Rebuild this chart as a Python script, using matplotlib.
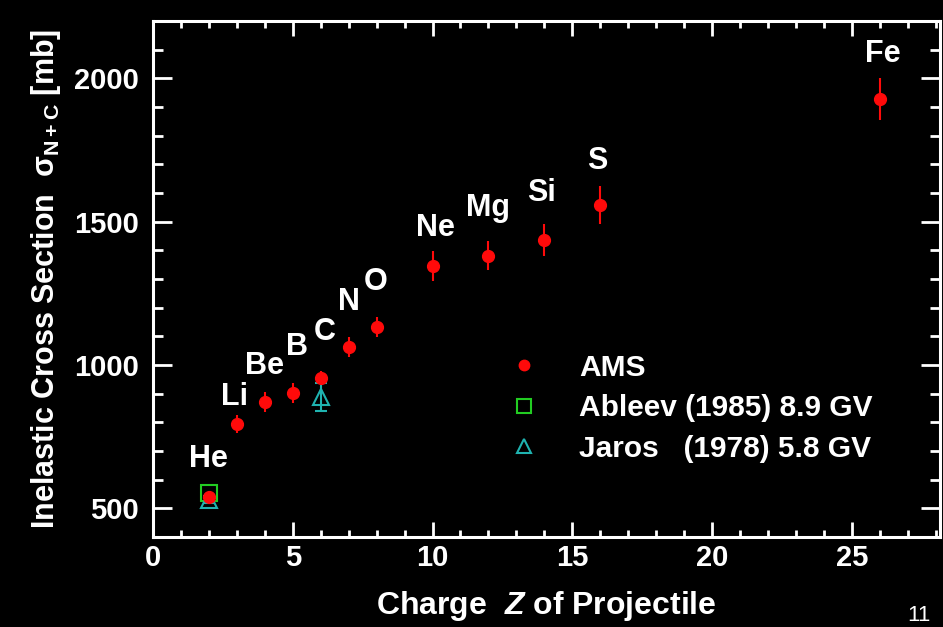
import numpy as np
import matplotlib
matplotlib.use('Agg')
import matplotlib.pyplot as plt
from matplotlib.ticker import MultipleLocator
from matplotlib.lines import Line2D

plt.rcParams['font.family'] = ['Liberation Sans', 'DejaVu Sans']
plt.rcParams['font.weight'] = 'bold'
plt.rcParams['mathtext.fontset'] = 'custom'
plt.rcParams['mathtext.rm'] = 'Liberation Sans:bold'
plt.rcParams['mathtext.bf'] = 'Liberation Sans:bold'
plt.rcParams['mathtext.it'] = 'Liberation Sans:italic:bold'
plt.rcParams['mathtext.sf'] = 'Liberation Sans'

# AMS measurements
elements = ['He', 'Li', 'Be', 'B', 'C', 'N', 'O', 'Ne', 'Mg', 'Si', 'S', 'Fe']
z_ams = [2, 3, 4, 5, 6, 7, 8, 10, 12, 14, 16, 26]
sigma_ams = [540, 794, 871, 902, 955, 1063, 1133, 1346, 1381, 1437, 1559, 1927]
err_ams = [15, 32, 35, 35, 25, 35, 35, 52, 50, 56, 66, 73]

# older measurements
z_ableev = [2]
sigma_ableev = [552]
z_jaros = [2, 6]
sigma_jaros = [530, 888]
err_jaros = [12, 49]

legend_labels = ['AMS', 'Ableev (1985) 8.9 GV', 'Jaros   (1978) 5.8 GV']

# where the element names sit (data coords)
label_x = [2.0, 2.9, 4.0, 5.15, 6.15, 7.0, 7.95, 10.1, 12.0, 13.9, 15.9, 26.1]
label_y = [671, 888, 997, 1063, 1115, 1220, 1290, 1479, 1549, 1601, 1713, 2084]

red = '#ff0a0a'
green = '#22cc22'
teal = '#1fb3b0'

fig = plt.figure(figsize=(9.43, 6.27), dpi=100, facecolor='black')
ax = fig.add_axes([0.1622, 0.1435, 0.8346, 0.823])
ax.set_facecolor('black')

ax.errorbar(z_ams, sigma_ams, yerr=err_ams, fmt='o', color=red, ms=8.5,
            elinewidth=1.5, capsize=0, zorder=4)
ax.plot(z_ableev, sigma_ableev, 's', mfc='none', mec=green, mew=1.5, ms=12, zorder=3)
ax.errorbar(z_jaros, sigma_jaros, yerr=err_jaros, fmt='^', mfc='none', mec=teal,
            ecolor=teal, mew=1.5, ms=11, elinewidth=1.5, capsize=4, capthick=1.5,
            zorder=3)

for name, lx, ly in zip(elements, label_x, label_y):
    ax.text(lx, ly, name, color='white', fontsize=22, fontweight='bold',
            ha='center', va='center')

ax.set_xlim(0, 28.15)
ax.set_ylim(400, 2200)
ax.xaxis.set_major_locator(MultipleLocator(5))
ax.xaxis.set_minor_locator(MultipleLocator(1))
ax.yaxis.set_major_locator(MultipleLocator(500))
ax.yaxis.set_minor_locator(MultipleLocator(100))

for s in ax.spines.values():
    s.set_color('white')
    s.set_linewidth(2.2)
ax.tick_params(which='both', direction='in', top=True, right=True, colors='white',
               width=2, labelsize=21)
ax.tick_params(axis='x', which='major', length=10.5, pad=5)
ax.tick_params(axis='x', which='minor', length=5)
ax.tick_params(axis='y', which='major', length=14, pad=10)
ax.tick_params(axis='y', which='minor', length=7)
for lab in ax.get_xticklabels() + ax.get_yticklabels():
    lab.set_fontweight('bold')

ax.set_xlabel(r'Charge  $\mathit{Z}$ of Projectile', color='white', fontsize=23,
              fontweight='bold', labelpad=12)
ax.set_ylabel(r'Inelastic Cross Section  $\mathsf{\sigma}_{\mathrm{N+C}}$ [mb]',
              color='white', fontsize=22, fontweight='bold', labelpad=8)

handles = [
    Line2D([], [], ls='none', marker='o', color=red, ms=7.5),
    Line2D([], [], ls='none', marker='s', mfc='none', mec=green, mew=1.5, ms=10),
    Line2D([], [], ls='none', marker='^', mfc='none', mec=teal, mew=1.5, ms=10),
]
leg = ax.legend(handles, legend_labels, loc='upper left', bbox_to_anchor=(0.452, 0.355),
                frameon=False, fontsize=21.5, borderaxespad=0, borderpad=0,
                handlelength=1.0, handletextpad=1.35, labelspacing=0.42)
for t in leg.get_texts():
    t.set_color('white')
    t.set_fontweight('bold')

fig.text(0.974, 0.002, '11', color='white', fontsize=16, fontweight='normal',
         ha='center', va='bottom')

fig.savefig('out.png', dpi=100, facecolor='black')
